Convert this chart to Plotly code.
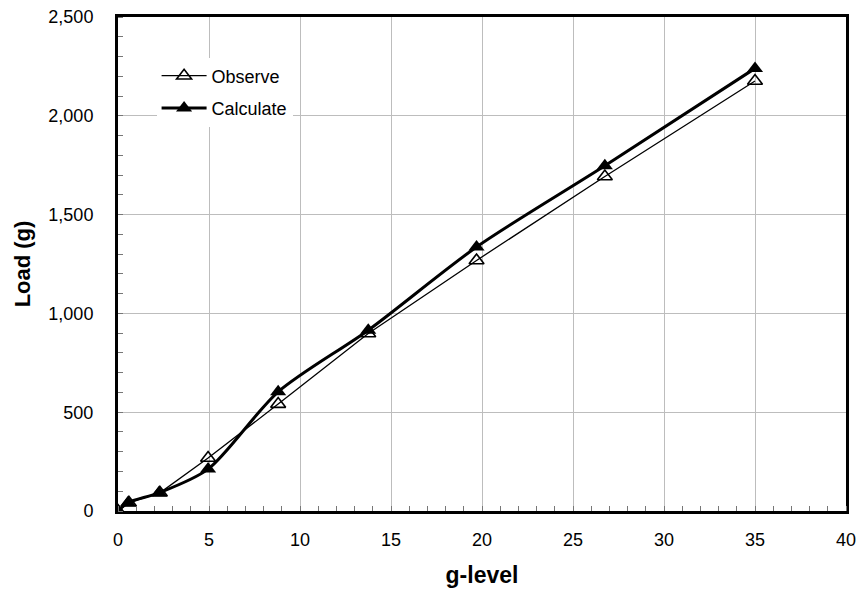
import plotly.graph_objects as go

# g-level and measured/computed load
g_observe = [0, 0.6, 2.3, 4.95, 8.8, 13.75, 19.7, 26.75, 35.0]
load_observe = [0, 42, 92, 268, 541, 898, 1268, 1693, 2176]

g_calculate = [0, 0.55, 2.25, 4.95, 8.8, 13.75, 19.7, 26.75, 35.0]
load_calculate = [0, 42, 92, 212, 603, 915, 1336, 1747, 2240]

x_ticks = [0, 5, 10, 15, 20, 25, 30, 35, 40]
y_ticks = [0, 500, 1000, 1500, 2000, 2500]

FONT = "Liberation Sans, Arial, sans-serif"

fig = go.Figure()

fig.add_trace(go.Scatter(
    x=g_observe, y=load_observe, name="Observe", legendgroup="obs",
    mode="lines+markers",
    line=dict(color="black", width=1.3),
    marker=dict(symbol="triangle-up-open", size=13, color="black",
                line=dict(width=1.6, color="black")),
))

fig.add_trace(go.Scatter(
    x=g_calculate, y=load_calculate, name="Calculate", legendgroup="calc",
    mode="lines+markers",
    line=dict(color="black", width=3, shape="spline", smoothing=0.8),
    marker=dict(symbol="triangle-up", size=14, color="black"),
))

fig.update_layout(
    width=862, height=596,
    margin=dict(l=118, r=16, t=17, b=85),
    paper_bgcolor="white", plot_bgcolor="white",
    font=dict(family=FONT, color="black", size=18),
    showlegend=True,
    legend=dict(
        x=0.053, y=0.918, xanchor="left", yanchor="top",
        bgcolor="white", borderwidth=0,
        font=dict(family=FONT, size=18, color="black"),
        itemwidth=45, tracegroupgap=6,
    ),
)

fig.update_xaxes(
    range=[0, 40], tickvals=x_ticks, automargin=False,
    showgrid=True, gridcolor="#bdbdbd", gridwidth=1,
    showline=True, linecolor="black", linewidth=3, mirror=True,
    ticks="", zeroline=False,
    minor=dict(dtick=1, ticks="inside", ticklen=5, tickcolor="#777777",
               showgrid=False),
    tickfont=dict(family=FONT, size=18),
    title=dict(text="<b>g-level</b>", font=dict(family=FONT, size=23),
               standoff=19),
    ticklabelstandoff=10,
)

fig.update_yaxes(
    range=[0, 2500], tickvals=y_ticks, tickformat=",", automargin=False,
    showgrid=True, gridcolor="#bdbdbd", gridwidth=1,
    showline=True, linecolor="black", linewidth=3, mirror=True,
    ticks="", zeroline=False,
    minor=dict(dtick=100, ticks="inside", ticklen=5, tickcolor="#777777",
               showgrid=False),
    tickfont=dict(family=FONT, size=18),
    title=dict(text="<b>Load (g)</b>", font=dict(family=FONT, size=22),
               standoff=12),
    ticklabelstandoff=18,
)

fig.write_html("out.html")
